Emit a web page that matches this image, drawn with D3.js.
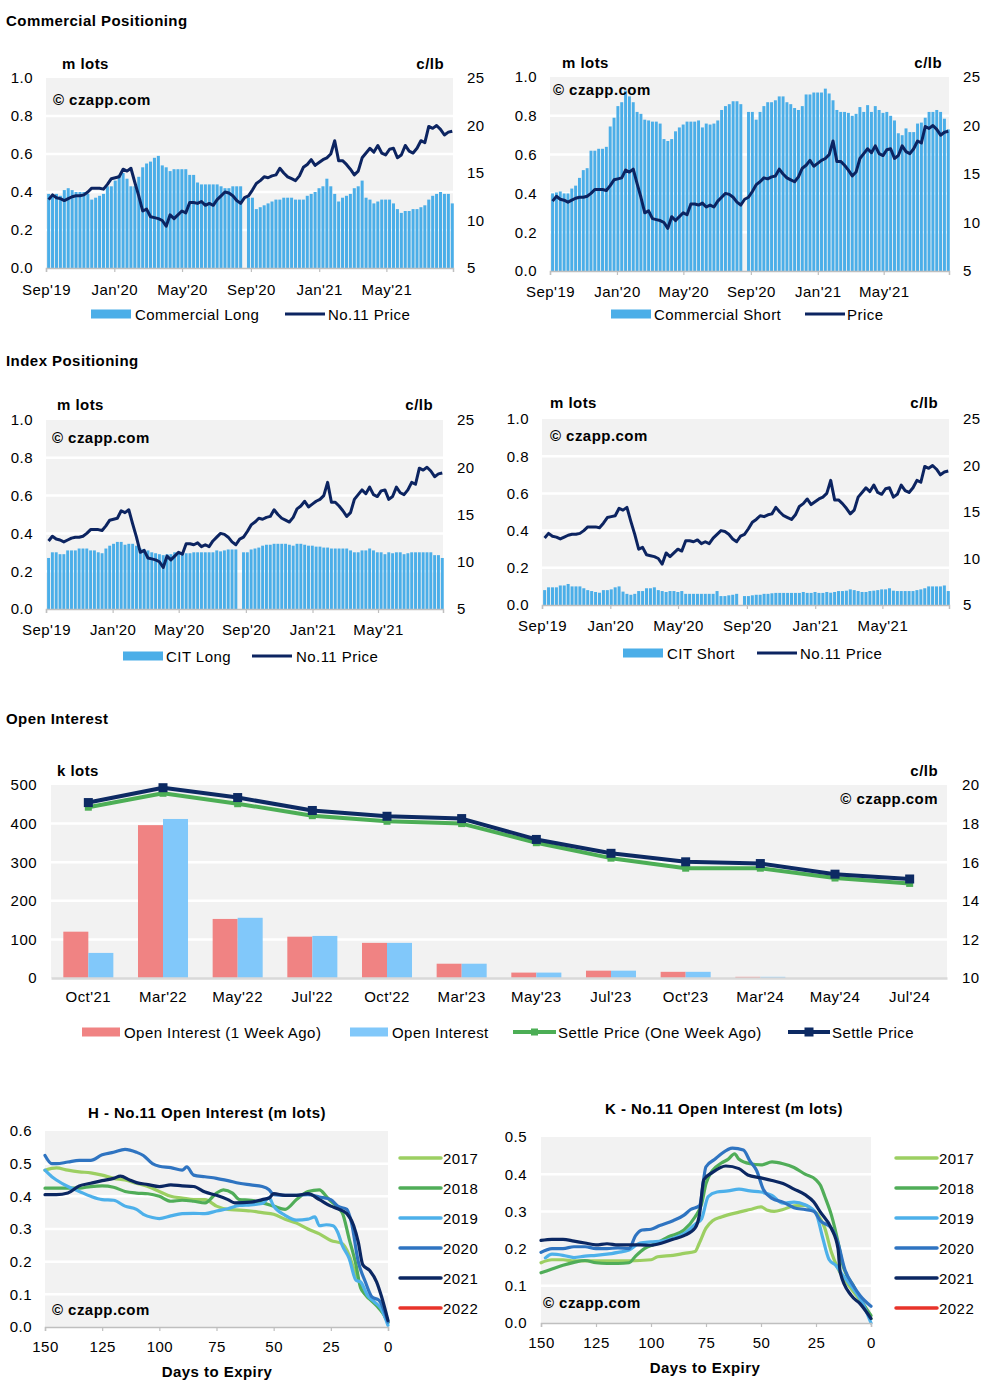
<!DOCTYPE html>
<html><head><meta charset="utf-8">
<script src="https://cdn.jsdelivr.net/npm/d3@7"></script>
<style>body{margin:0;background:#fff} text{font-family:"Liberation Sans",Arial,sans-serif;fill:#000;letter-spacing:0.45px}</style>
</head><body><svg id="c" width="996" height="1390"></svg>
<script>
// ---------------- DATA ----------------
const firstWeek = "2019-09-03";
const priceTickLabels = ["Sep'19","Jan'20","May'20","Sep'20","Jan'21","May'21"];
const priceTickDates = ["2019-09-01","2020-01-01","2020-05-01","2020-09-01","2021-01-01","2021-05-01"];
const lotTicks = [0,0.2,0.4,0.6,0.8,1.0];
const priceTicks = [5,10,15,20,25];

const price = [12.2,12.7,12.4,12.3,12.1,12.3,12.5,12.6,12.6,12.7,13.0,13.4,13.4,13.4,13.3,13.8,14.4,14.5,14.6,15.4,
15.2,15.5,14.0,12.6,11.0,11.2,10.4,10.3,10.2,10.0,9.4,10.6,10.2,10.6,11.0,10.8,11.9,11.9,11.8,12.0,
11.6,11.8,11.6,12.2,12.6,13.0,12.9,12.6,12.1,11.8,12.4,12.6,13.2,13.9,14.2,14.6,14.5,14.7,14.8,15.5,
15.0,14.6,14.4,14.2,14.7,15.6,15.9,16.4,15.8,16.1,16.4,16.6,17.0,18.4,16.3,16.3,15.9,15.4,14.8,15.2,
16.6,17.1,17.6,17.2,17.9,17.1,16.9,17.5,17.6,16.6,16.9,17.9,17.3,17.1,17.6,18.4,18.2,19.9,19.7,20.0,
19.6,19.0,19.3,19.4];

const commercialLong = [0.39,0.38,0.39,0.38,0.41,0.42,0.41,0.40,0.40,0.40,0.39,0.36,0.37,0.38,0.39,0.43,0.43,0.46,0.49,0.50,
0.47,0.43,0.43,0.48,0.53,0.55,0.56,0.58,0.59,0.54,0.53,0.51,0.52,0.52,0.52,0.52,0.49,0.49,0.45,0.44,
0.44,0.44,0.44,0.44,0.43,0.42,0.42,0.43,0.43,0.43,null,0.37,0.37,0.31,0.32,0.33,0.34,0.35,0.36,0.36,
0.37,0.37,0.37,0.36,0.36,0.36,0.38,0.39,0.40,0.42,0.43,0.47,0.43,0.39,0.35,0.37,0.38,0.39,0.42,0.43,
0.46,0.37,0.36,0.34,0.35,0.36,0.36,0.36,0.34,0.31,0.29,0.30,0.30,0.31,0.31,0.32,0.33,0.36,0.38,0.39,
0.40,0.39,0.39,0.34];

const commercialShort = [0.40,0.405,0.41,0.40,0.40,0.425,0.44,0.48,0.52,0.53,0.62,0.62,0.63,0.63,0.64,0.745,0.79,0.85,0.87,0.93,
0.90,0.87,0.82,0.81,0.78,0.776,0.77,0.77,0.76,0.68,0.67,0.68,0.72,0.74,0.755,0.77,0.77,0.77,0.776,0.74,
0.76,0.755,0.76,0.776,0.83,0.85,0.86,0.875,0.875,0.86,null,0.82,0.82,0.78,0.82,0.85,0.87,0.87,0.88,0.90,
0.90,0.87,0.86,0.84,0.83,0.85,0.91,0.91,0.92,0.92,0.92,0.94,0.915,0.88,0.83,0.82,0.82,0.815,0.80,0.81,
0.845,0.82,0.855,0.82,0.85,0.83,0.815,0.82,0.80,0.776,0.71,0.70,0.735,0.716,0.716,0.76,0.765,0.79,0.82,0.82,
0.83,0.82,0.785,0.73];

const citLong = [0.27,0.30,0.30,0.29,0.29,0.31,0.31,0.31,0.32,0.32,0.32,0.31,0.31,0.30,0.295,0.32,0.335,0.345,0.355,0.355,
0.34,0.345,0.345,0.335,0.32,0.315,0.31,0.30,0.295,0.29,0.285,0.29,0.29,0.30,0.30,0.295,0.295,0.295,0.30,0.30,
0.30,0.30,0.30,0.30,0.31,0.305,0.31,0.315,0.315,0.315,null,0.30,0.30,0.315,0.32,0.325,0.335,0.34,0.34,0.345,
0.345,0.345,0.345,0.34,0.335,0.345,0.345,0.34,0.335,0.335,0.33,0.33,0.325,0.325,0.32,0.32,0.32,0.32,0.32,0.31,
0.30,0.30,0.31,0.31,0.32,0.31,0.30,0.30,0.29,0.30,0.295,0.30,0.30,0.29,0.295,0.30,0.30,0.30,0.30,0.30,
0.30,0.285,0.285,0.27];

const citShort = [0.08,0.095,0.095,0.095,0.105,0.105,0.113,0.10,0.10,0.10,0.09,0.08,0.075,0.07,0.066,0.08,0.08,0.084,0.095,0.10,
0.072,0.06,0.055,0.06,0.075,0.075,0.09,0.09,0.095,0.08,0.075,0.07,0.075,0.075,0.07,0.075,0.06,0.06,0.06,0.06,
0.06,0.06,0.06,0.06,0.075,0.048,0.048,0.052,0.055,0.06,null,0.048,0.048,0.052,0.055,0.055,0.06,0.06,0.063,0.065,
0.065,0.065,0.065,0.065,0.065,0.065,0.07,0.065,0.065,0.07,0.065,0.065,0.07,0.066,0.07,0.075,0.075,0.077,0.084,0.08,
0.075,0.07,0.07,0.075,0.077,0.08,0.084,0.084,0.09,0.077,0.075,0.075,0.075,0.075,0.075,0.08,0.084,0.09,0.10,0.10,
0.10,0.10,0.105,0.075];

// Open interest by contract
const oiContracts = ["Oct'21","Mar'22","May'22","Jul'22","Oct'22","Mar'23","May'23","Jul'23","Oct'23","Mar'24","May'24","Jul'24"];
const oiWeekAgo = [120,396,153,107,91,37,14,19,16,3,0,0];
const oiNow = [65,412,156,109,91,37,14,19,16,3,0,0];
const settleWeekAgo = [18.85,19.57,19.03,18.41,18.12,18.0,17.01,16.21,15.69,15.69,15.18,14.9];
const settleNow = [19.09,19.86,19.35,18.68,18.38,18.26,17.18,16.46,16.02,15.93,15.38,15.13];
const oiLeftTicks = [0,100,200,300,400,500];
const oiRightTicks = [10,12,14,16,18,20];

// H contract open interest vs days to expiry [day, m lots]
const yearLabels = ["2017","2018","2019","2020","2021","2022"];
const hOI2017 = [[150,0.48],[145,0.487],[140,0.48],[135,0.475],[130,0.472],[125,0.465],[120,0.455],[115,0.45],[110,0.44],[105,0.43],[100,0.415],[95,0.40],[90,0.395],[85,0.39],[80,0.39],[75,0.37],[70,0.36],[65,0.358],[60,0.355],[55,0.35],[50,0.345],[45,0.33],[40,0.318],[35,0.30],[30,0.285],[25,0.265],[20,0.255],[17,0.22],[15,0.18],[12,0.13],[10,0.10],[5,0.07],[2,0.04],[0,0.013]];
const hOI2018 = [[150,0.425],[145,0.425],[140,0.425],[135,0.425],[130,0.43],[125,0.432],[120,0.428],[115,0.415],[110,0.41],[105,0.408],[100,0.40],[95,0.385],[90,0.388],[85,0.385],[80,0.38],[75,0.41],[72,0.42],[68,0.41],[65,0.39],[60,0.388],[55,0.38],[50,0.37],[45,0.36],[40,0.39],[35,0.415],[30,0.42],[27,0.40],[25,0.385],[20,0.35],[17,0.27],[14,0.19],[12,0.12],[10,0.10],[5,0.065],[2,0.04],[0,0.015]];
const hOI2019 = [[150,0.48],[147,0.46],[145,0.45],[140,0.43],[135,0.415],[130,0.40],[125,0.39],[120,0.388],[115,0.37],[110,0.36],[107,0.345],[103,0.335],[100,0.332],[95,0.34],[90,0.347],[85,0.348],[80,0.347],[75,0.355],[70,0.362],[65,0.372],[60,0.374],[55,0.378],[52,0.395],[50,0.37],[45,0.342],[40,0.327],[35,0.33],[32,0.337],[30,0.31],[27,0.313],[24,0.31],[22,0.29],[20,0.25],[17,0.21],[14,0.143],[12,0.138],[9,0.097],[6,0.077],[3,0.056],[0,0.005]];
const hOI2020 = [[150,0.525],[147,0.50],[145,0.50],[140,0.505],[135,0.51],[130,0.51],[125,0.527],[120,0.535],[115,0.544],[110,0.535],[107,0.525],[103,0.50],[100,0.492],[95,0.488],[90,0.48],[88,0.49],[85,0.465],[80,0.46],[75,0.455],[70,0.448],[65,0.44],[60,0.435],[55,0.43],[52,0.42],[50,0.405],[45,0.403],[40,0.403],[35,0.405],[30,0.398],[25,0.39],[22,0.37],[18,0.36],[16,0.32],[13,0.20],[10,0.14],[7,0.092],[4,0.082],[0,0.015]];
const hOI2021 = [[150,0.405],[145,0.405],[140,0.41],[135,0.432],[130,0.44],[125,0.448],[120,0.455],[117,0.462],[113,0.45],[110,0.442],[105,0.436],[100,0.43],[95,0.435],[90,0.432],[85,0.43],[80,0.413],[75,0.403],[70,0.39],[67,0.38],[60,0.382],[55,0.39],[52,0.395],[50,0.408],[45,0.403],[40,0.403],[35,0.408],[30,0.39],[25,0.37],[22,0.362],[18,0.347],[15,0.31],[13,0.26],[11,0.19],[8,0.173],[5,0.138],[3,0.097],[0,0.02]];
const hOI2022 = [];

// K contract
const kOI2017 = [[150,0.162],[145,0.17],[140,0.17],[135,0.167],[130,0.167],[120,0.167],[110,0.167],[100,0.17],[97,0.178],[90,0.182],[85,0.187],[80,0.192],[78,0.215],[75,0.255],[72,0.275],[68,0.285],[60,0.298],[55,0.305],[50,0.312],[47,0.303],[44,0.30],[40,0.305],[35,0.315],[30,0.316],[27,0.305],[24,0.29],[21,0.255],[18,0.19],[15,0.146],[10,0.10],[5,0.061],[2,0.034],[0,0.012]];
const kOI2018 = [[150,0.135],[145,0.145],[140,0.155],[135,0.163],[130,0.168],[125,0.162],[120,0.16],[115,0.16],[110,0.162],[107,0.18],[103,0.20],[98,0.213],[92,0.232],[85,0.25],[80,0.285],[77,0.32],[75,0.375],[72,0.41],[68,0.43],[65,0.44],[62,0.455],[60,0.44],[55,0.428],[50,0.425],[45,0.433],[40,0.428],[35,0.418],[30,0.40],[25,0.385],[23,0.37],[21,0.34],[18,0.29],[15,0.218],[13,0.16],[8,0.10],[4,0.056],[0,0.02]];
const kOI2019 = [[148,0.175],[145,0.185],[140,0.182],[135,0.176],[130,0.18],[125,0.182],[120,0.185],[115,0.19],[110,0.196],[105,0.215],[100,0.218],[95,0.22],[90,0.228],[85,0.24],[80,0.265],[77,0.28],[74,0.34],[70,0.352],[65,0.355],[60,0.36],[55,0.355],[50,0.352],[45,0.343],[40,0.322],[35,0.325],[30,0.318],[25,0.295],[22,0.23],[19,0.17],[16,0.155],[13,0.13],[8,0.092],[4,0.056],[0,0.0]];
const kOI2020 = [[150,0.19],[145,0.20],[140,0.20],[135,0.205],[130,0.205],[125,0.20],[120,0.20],[115,0.202],[110,0.20],[107,0.235],[104,0.25],[100,0.252],[96,0.262],[90,0.275],[85,0.29],[82,0.305],[78,0.315],[75,0.42],[71,0.44],[68,0.455],[63,0.47],[58,0.465],[55,0.435],[52,0.41],[49,0.36],[45,0.335],[40,0.325],[35,0.31],[30,0.305],[26,0.30],[23,0.275],[18,0.255],[15,0.215],[12,0.146],[8,0.10],[5,0.074],[0,0.045]];
const kOI2021 = [[150,0.222],[145,0.225],[140,0.225],[135,0.22],[130,0.215],[125,0.21],[120,0.213],[115,0.21],[110,0.21],[105,0.21],[100,0.209],[95,0.215],[90,0.225],[85,0.235],[80,0.255],[78,0.29],[76,0.385],[72,0.405],[66,0.422],[60,0.415],[56,0.398],[50,0.39],[45,0.383],[40,0.375],[35,0.36],[30,0.345],[26,0.325],[23,0.298],[18,0.254],[15,0.20],[14,0.137],[9,0.074],[5,0.052],[0,0.012]];
const kOI2022 = [];
const dayTicks = [150,125,100,75,50,25,0];

// ---------------- STYLE ----------------
const BAR = "#4baee8", PRICE = "#0c2461", BG = "#f2f2f2", AX = "#bfbfbf";
const yearColors = ["#9ccf62","#50ad58","#4db0ea","#2f74c1","#0b2762","#e8332a"];
const svg = d3.select("#c");
const parse = d3.utcParse("%Y-%m-%d");
const week0 = parse(firstWeek);
const weekDates = price.map((_, i) => d3.utcDay.offset(week0, 7 * i));

function txt(g, x, y, s, o = {}) {
  return g.append("text").attr("x", x).attr("y", y).text(s)
    .attr("font-size", o.size || 15).attr("font-weight", o.bold ? "bold" : null)
    .attr("text-anchor", o.anchor || "start").attr("dominant-baseline", "central");
}

function styleAxis(a, size) {
  a.selectAll("text").attr("font-size", size || 15).attr("fill", "#000").attr("font-family", '"Liberation Sans",Arial,sans-serif');
  a.select(".domain").attr("stroke", AX).attr("stroke-width", 1.5);
  a.selectAll(".tick line").attr("stroke", AX).attr("stroke-width", 1.2);
}

// ---------------- POSITIONING PANELS ----------------
function positioning(c) {
  const g = svg.append("g");
  const x = d3.scaleUtc().domain([parse("2019-09-01"), parse("2021-08-28")]).range([c.L, c.R]);
  const y = d3.scaleLinear().domain([0, 1]).range([c.B, c.T]);
  const yp = d3.scaleLinear().domain([5, 25]).range([c.B, c.T]);
  g.append("rect").attr("x", c.L).attr("y", c.T).attr("width", c.R - c.L).attr("height", c.B - c.T).attr("fill", BG);
  g.selectAll(".gl").data(lotTicks.slice(1, 5)).join("line")
    .attr("x1", c.L).attr("x2", c.R).attr("y1", d => y(d)).attr("y2", d => y(d))
    .attr("stroke", "#fff").attr("stroke-width", 2.5);
  const step = x(weekDates[1]) - x(weekDates[0]);
  const bw = step - 0.9;
  const rows = c.values.map((v, i) => ({ v, d: weekDates[i] })).filter(r => r.v != null);
  g.selectAll(".bar").data(rows).join("rect")
    .attr("x", r => x(r.d)).attr("width", bw)
    .attr("y", r => y(r.v)).attr("height", r => y(0) - y(r.v)).attr("fill", BAR);
  const line = d3.line().x((d, i) => x(weekDates[i]) + bw / 2).y(d => yp(d)).curve(d3.curveLinear);
  g.append("path").datum(price).attr("d", line).attr("fill", "none")
    .attr("stroke", PRICE).attr("stroke-width", 3).attr("stroke-linejoin", "round");
  // axes
  const xa = g.append("g").attr("transform", `translate(0,${c.B})`)
    .call(d3.axisBottom(x).tickValues(priceTickDates.map(parse)).tickFormat((d, i) => priceTickLabels[i]).tickSize(4).tickPadding(c.xPad));
  styleAxis(xa);
  const ya = g.append("g").attr("transform", `translate(${c.L},0)`)
    .call(d3.axisLeft(y).tickValues(lotTicks).tickFormat(d3.format(".1f")).tickSize(0).tickPadding(c.L - c.lx));
  styleAxis(ya); ya.select(".domain").remove();
  const yr = g.append("g").attr("transform", `translate(${c.R},0)`)
    .call(d3.axisRight(yp).tickValues(priceTicks).tickFormat(d3.format("d")).tickSize(0).tickPadding(c.rx - c.R));
  styleAxis(yr); yr.select(".domain").remove();
  txt(g, c.mx, c.my, "m lots", { bold: true });
  txt(g, c.cx, c.my, "c/lb", { bold: true, anchor: "end" });
  txt(g, c.wx, c.wy, "© czapp.com", { bold: true });
  // legend
  g.append("rect").attr("x", c.lg[0]).attr("y", c.ly - 4.5).attr("width", 40).attr("height", 9).attr("fill", BAR);
  txt(g, c.lg[1], c.ly, c.t1);
  g.append("line").attr("x1", c.lg[2]).attr("x2", c.lg[2] + 40).attr("y1", c.ly).attr("y2", c.ly).attr("stroke", PRICE).attr("stroke-width", 3);
  txt(g, c.lg[3], c.ly, c.t2);
}

txt(svg, 6, 20, "Commercial Positioning", { bold: true });
txt(svg, 6, 360, "Index Positioning", { bold: true });
txt(svg, 6, 718, "Open Interest", { bold: true });

positioning({ L: 46, R: 453, T: 78, B: 268, values: commercialLong, lx: 33, rx: 467, xPad: 12,
  mx: 62, cx: 444, my: 63, wx: 53, wy: 99, ly: 314, lg: [91, 135, 285, 328], t1: "Commercial Long", t2: "No.11 Price" });
positioning({ L: 550, R: 949, T: 77, B: 271, values: commercialShort, lx: 537, rx: 963, xPad: 11,
  mx: 562, cx: 942, my: 62, wx: 553, wy: 89, ly: 314, lg: [611, 654, 805, 847], t1: "Commercial Short", t2: "Price" });
positioning({ L: 46, R: 443, T: 420, B: 609, values: citLong, lx: 33, rx: 457, xPad: 11,
  mx: 57, cx: 433, my: 404, wx: 52, wy: 437, ly: 656, lg: [123, 166, 252, 296], t1: "CIT Long", t2: "No.11 Price" });
positioning({ L: 542, R: 949, T: 419, B: 605, values: citShort, lx: 529, rx: 963, xPad: 11,
  mx: 550, cx: 938, my: 402, wx: 550, wy: 435, ly: 653, lg: [623, 667, 757, 800], t1: "CIT Short", t2: "No.11 Price" });

// ---------------- OPEN INTEREST ----------------
(function () {
  const L = 51, R = 947, T = 785, B = 978;
  const g = svg.append("g");
  const x = d3.scaleBand().domain(oiContracts).range([L, R]).padding(0);
  const y = d3.scaleLinear().domain([0, 500]).range([B, T]);
  const yp = d3.scaleLinear().domain([10, 20]).range([B, T]);
  g.append("rect").attr("x", L).attr("y", T).attr("width", R - L).attr("height", B - T).attr("fill", BG);
  g.selectAll(".gl").data(oiLeftTicks.slice(1, 5)).join("line")
    .attr("x1", L).attr("x2", R).attr("y1", d => y(d)).attr("y2", d => y(d)).attr("stroke", "#fff").attr("stroke-width", 2.5);
  const bw = x.bandwidth() * 0.335;
  g.selectAll(".r").data(oiContracts).join("rect")
    .attr("x", d => x(d) + x.bandwidth() / 2 - bw).attr("width", bw)
    .attr("y", (d, i) => y(oiWeekAgo[i])).attr("height", (d, i) => B - y(oiWeekAgo[i])).attr("fill", "#f08383");
  g.selectAll(".b").data(oiContracts).join("rect")
    .attr("x", d => x(d) + x.bandwidth() / 2).attr("width", bw)
    .attr("y", (d, i) => y(oiNow[i])).attr("height", (d, i) => B - y(oiNow[i])).attr("fill", "#81c8fa");
  const cx = d => x(d) + x.bandwidth() / 2;
  const mk = (vals, col, ms, lw) => {
    const line = d3.line().x((v, i) => cx(oiContracts[i])).y(v => yp(v));
    g.append("path").datum(vals).attr("d", line).attr("fill", "none").attr("stroke", col).attr("stroke-width", lw).attr("stroke-linejoin", "round");
    g.selectAll(null).data(vals).join("rect").attr("x", (v, i) => cx(oiContracts[i]) - ms / 2).attr("y", v => yp(v) - ms / 2)
      .attr("width", ms).attr("height", ms).attr("fill", col);
  };
  mk(settleWeekAgo, "#4cae55", 7, 4);
  mk(settleNow, "#0d2a63", 9, 4);
  const xa = g.append("g").attr("transform", `translate(0,${B})`).call(d3.axisBottom(x).tickSize(0).tickPadding(13));
  styleAxis(xa); xa.select(".domain").attr("stroke", "#d9d9d9").attr("stroke-width", 2.5);
  const ya = g.append("g").attr("transform", `translate(${L},0)`).call(d3.axisLeft(y).tickValues(oiLeftTicks).tickSize(0).tickPadding(L - 37));
  styleAxis(ya); ya.select(".domain").remove();
  const yr = g.append("g").attr("transform", `translate(${R},0)`).call(d3.axisRight(yp).tickValues(oiRightTicks).tickSize(0).tickPadding(15));
  styleAxis(yr); yr.select(".domain").remove();
  txt(g, 57, 770, "k lots", { bold: true });
  txt(g, 938, 770, "c/lb", { bold: true, anchor: "end" });
  txt(g, 938, 798, "© czapp.com", { bold: true, anchor: "end" });
  const ly = 1032;
  g.append("rect").attr("x", 82).attr("y", ly - 4.5).attr("width", 38).attr("height", 9).attr("fill", "#f08383");
  txt(g, 124, ly, "Open Interest (1 Week Ago)");
  g.append("rect").attr("x", 350).attr("y", ly - 4.5).attr("width", 38).attr("height", 9).attr("fill", "#81c8fa");
  txt(g, 392, ly, "Open Interest");
  g.append("line").attr("x1", 513).attr("x2", 556).attr("y1", ly).attr("y2", ly).attr("stroke", "#4cae55").attr("stroke-width", 4);
  g.append("rect").attr("x", 531).attr("y", ly - 3.5).attr("width", 7).attr("height", 7).attr("fill", "#4cae55");
  txt(g, 558, ly, "Settle Price (One Week Ago)");
  g.append("line").attr("x1", 788).attr("x2", 830).attr("y1", ly).attr("y2", ly).attr("stroke", "#0d2a63").attr("stroke-width", 4);
  g.append("rect").attr("x", 804.5).attr("y", ly - 4.5).attr("width", 9).attr("height", 9).attr("fill", "#0d2a63");
  txt(g, 832, ly, "Settle Price");
})();

// ---------------- DAYS TO EXPIRY PANELS ----------------
function expiry(c) {
  const g = svg.append("g");
  const x = d3.scaleLinear().domain([150, 0]).range([c.L, c.R]);
  const y = d3.scaleLinear().domain([0, c.max]).range([c.B, c.T]);
  const ticks = d3.range(0, c.max + 0.001, 0.1);
  g.append("rect").attr("x", c.L).attr("y", c.T).attr("width", c.R - c.L).attr("height", c.B - c.T).attr("fill", BG);
  g.selectAll(".gl").data(ticks.slice(1, -1)).join("line")
    .attr("x1", c.L).attr("x2", c.R).attr("y1", d => y(d)).attr("y2", d => y(d)).attr("stroke", "#fff").attr("stroke-width", 2.5);
  const line = d3.line().x(d => x(d[0])).y(d => y(d[1])).curve(d3.curveMonotoneX);
  c.series.forEach((s, i) => {
    if (!s.length) return;
    g.append("path").datum(s).attr("d", line).attr("fill", "none").attr("stroke", yearColors[i])
      .attr("stroke-width", 3.2).attr("stroke-linejoin", "round").attr("stroke-linecap", "round");
  });
  const xa = g.append("g").attr("transform", `translate(0,${c.B})`).call(d3.axisBottom(x).tickValues(dayTicks).tickSize(4).tickPadding(c.xPad));
  styleAxis(xa);
  const ya = g.append("g").attr("transform", `translate(${c.L},0)`).call(d3.axisLeft(y).tickValues(ticks).tickFormat(d3.format(".1f")).tickSize(0).tickPadding(c.L - c.lx));
  styleAxis(ya); ya.select(".domain").remove();
  txt(g, c.tx, c.ty, c.title, { bold: true, anchor: "middle" });
  txt(g, c.dx, c.dy, "Days to Expiry", { bold: true, anchor: "middle" });
  txt(g, c.wx, c.wy, "© czapp.com", { bold: true });
  const lys = [1158, 1188, 1218, 1248, 1278, 1308];
  yearLabels.forEach((yl, i) => {
    g.append("line").attr("x1", c.lgx).attr("x2", c.lgx + 41).attr("y1", lys[i]).attr("y2", lys[i])
      .attr("stroke", yearColors[i]).attr("stroke-width", 3.5).attr("stroke-linecap", "round");
    txt(g, c.lgx + 43, lys[i], yl);
  });
}
expiry({ L: 45, R: 388, T: 1131, B: 1327, max: 0.6, lx: 32, xPad: 10, series: [hOI2017, hOI2018, hOI2019, hOI2020, hOI2021, hOI2022],
  title: "H - No.11 Open Interest (m lots)", tx: 207, ty: 1112, dx: 217, dy: 1371, wx: 52, wy: 1309, lgx: 400 });
expiry({ L: 541, R: 871, T: 1137, B: 1323, max: 0.5, lx: 527, xPad: 10, series: [kOI2017, kOI2018, kOI2019, kOI2020, kOI2021, kOI2022],
  title: "K - No.11 Open Interest (m lots)", tx: 724, ty: 1108, dx: 705, dy: 1367, wx: 543, wy: 1302, lgx: 896 });
</script></body></html>
